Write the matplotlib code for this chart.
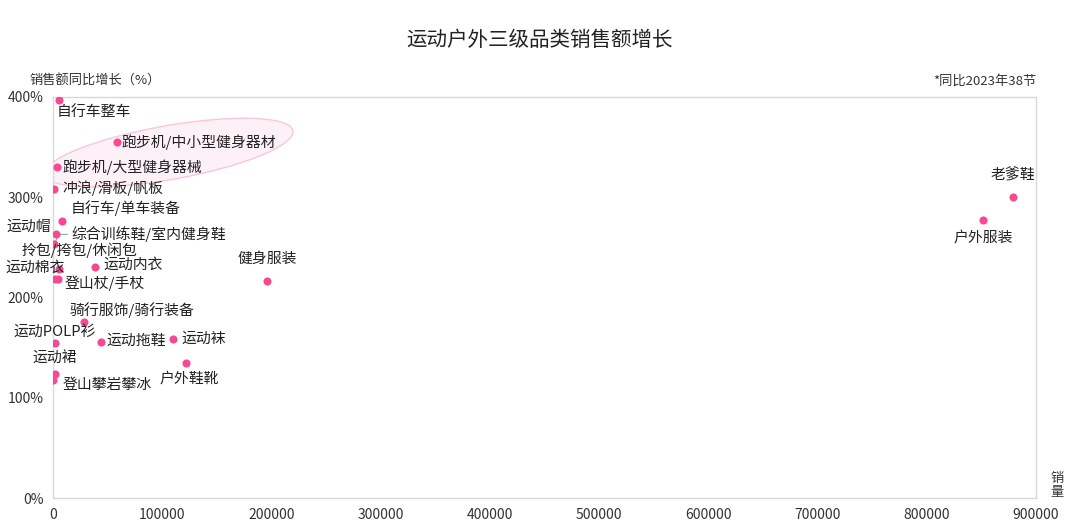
import numpy as np
import matplotlib.pyplot as plt
from matplotlib.patches import Ellipse
from matplotlib.transforms import IdentityTransform

plt.rcParams['font.family'] = ['Noto Sans CJK SC', 'DejaVu Sans']

names = ['自行车整车', '跑步机/中小型健身器材', '跑步机/大型健身器械', '冲浪/滑板/帆板',
         '自行车/单车装备', '运动帽', '综合训练鞋/室内健身鞋', '拎包/挎包/休闲包',
         '运动棉衣', '登山杖/手杖', '运动内衣', '健身服装', '骑行服饰/骑行装备',
         '运动POLP衫', '运动拖鞋', '运动袜', '户外鞋靴', '运动裙', '登山攀岩攀冰',
         '老爹鞋', '户外服装']
sales = [5500, 58600, 3200, 500, 8000, 2700, 1200, 1400, 5800, 4100, 38500, 196000,
         28400, 1800, 43700, 110000, 121800, 1800, 300, 879000, 851600]
growth = [397, 355, 330, 308, 276, 263, 253, 218, 228, 218, 230, 216, 176, 155, 155.5,
          158.5, 134.6, 123.6, 117.7, 300, 277]

# label offsets in pixels (dx, dy up), alignment
label_pos = [(-2, -13, 'left'), (4, 0, 'left'), (6, 0, 'left'), (9, 1, 'left'),
             (9, 13, 'left'), (-5, 8, 'right'), (17, 10, 'left'), (25, 29, 'center'),
             (6, 2, 'right'), (7, -4, 'left'), (8, 3, 'left'), (0, 23, 'center'),
             (-15, 12, 'left'), (-42, 11, 'left'), (6, 1, 'left'), (8, 0, 'left'),
             (3, -16, 'center'), (0, 15, 'center'), (9, -5, 'left'), (0, 22, 'center'),
             (0, -17, 'center')]

xticks = np.arange(0, 900001, 100000)
yticks = [0, 100, 200, 300, 400]

fig = plt.figure(figsize=(10.8, 5.32), dpi=100)
ax = fig.add_axes([0.0491, 0.0639, 0.9102, 0.7538])
ax.set_xlim(0, 900000)
ax.set_ylim(0, 400)

for s in ax.spines.values():
    s.set_color('#d9d9d9')
    s.set_linewidth(1)
ax.set_xticks(xticks)
ax.set_xticklabels([str(v) for v in xticks])
ax.set_yticks(yticks)
ax.set_yticklabels([f'{v}%' for v in yticks])
ax.tick_params(length=0, labelsize=10, colors='#333333', pad=7)

ax.scatter(sales, growth, s=34, color='#f94892', zorder=3, linewidths=0)

for n, x, y, (dx, dy, ha) in zip(names, sales, growth, label_pos):
    ax.annotate(n, (x, y), xytext=(dx, dy), textcoords='offset pixels',
                ha=ha, va='center', fontsize=10.7, color='#222222', zorder=4)

# leader line for 综合训练鞋
i = names.index('综合训练鞋/室内健身鞋')
px, py = ax.transData.transform((sales[i], growth[i]))
ax.plot([px + 1, px + 4, px + 13], [py + 2, py + 10, py + 10], color='#a6a6a6',
        lw=0.8, transform=IdentityTransform(), zorder=2)

# highlight around the treadmill categories
a = ax.transData.transform((sales[1], growth[1]))
b = ax.transData.transform((sales[2], growth[2]))
cx = (a[0] + b[0]) / 2 + 82
cy = (a[1] + b[1]) / 2 + 2
ell = Ellipse((cx, cy), 252, 54, angle=10, transform=IdentityTransform(),
              facecolor='#fdeaf3', edgecolor='#f6b3cf', lw=1.0, alpha=0.7, zorder=1)
ax.add_patch(ell)

fig.text(0.5, 0.925, '运动户外三级品类销售额增长', ha='center', va='center',
         fontsize=14.8, color='#222222')
fig.text(0.088, 0.848, '销售额同比增长（%）', ha='center', va='center',
         fontsize=9.5, color='#333333')
fig.text(0.9593, 0.848, '*同比2023年38节', ha='right', va='center',
         fontsize=9.5, color='#333333')
fig.text(0.979, 0.088, '销\n量', ha='center', va='center', fontsize=9.5,
         color='#333333', linespacing=1.1)

fig.savefig('out.png', dpi=100)
